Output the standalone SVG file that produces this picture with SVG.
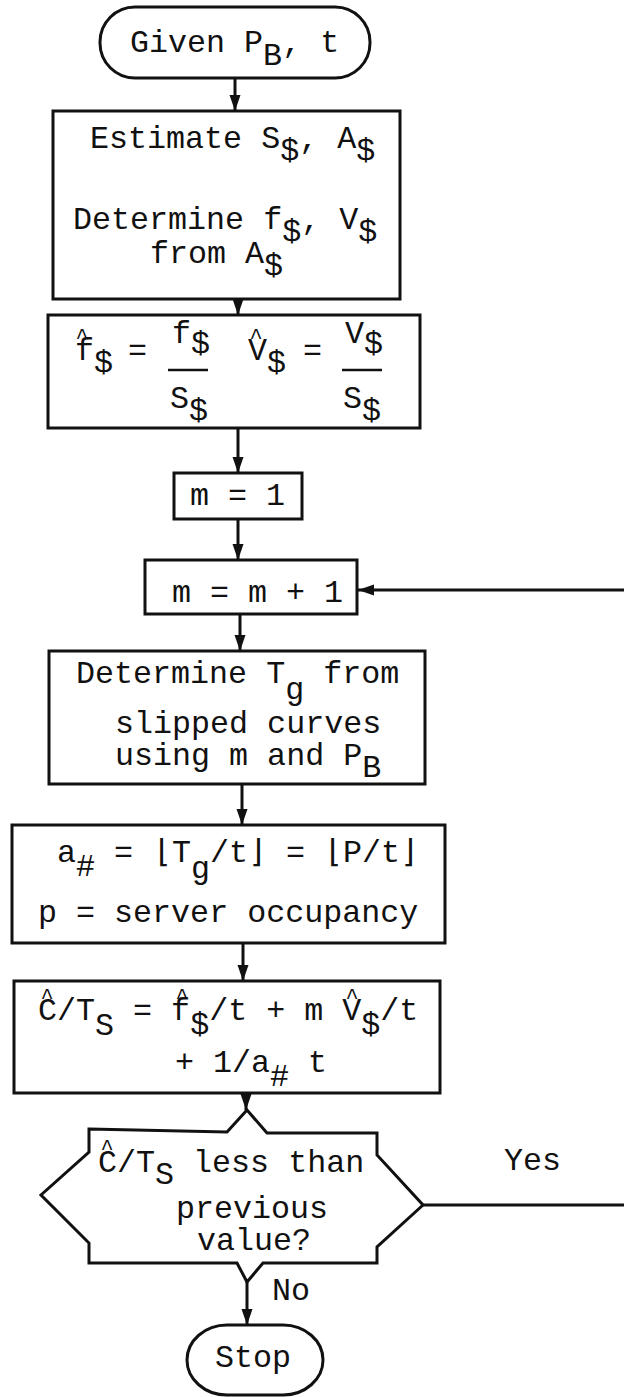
<svg xmlns="http://www.w3.org/2000/svg" width="624" height="1397" viewBox="0 0 624 1397">
<defs>
<style>
.shape{fill:none;stroke:#111;stroke-width:3;stroke-linejoin:miter}
.conn{fill:none;stroke:#111;stroke-width:3}
.t{font-family:"Liberation Mono","DejaVu Sans Mono",monospace;font-size:31.7px;fill:#111}
.hat{font-family:"Liberation Mono","DejaVu Sans Mono",monospace;font-size:22px;fill:#111;text-anchor:middle}
.bar{stroke:#111;stroke-width:2.5}
</style>
<marker id="ah" markerUnits="userSpaceOnUse" markerWidth="16" markerHeight="12" viewBox="0 0 16 12" refX="16" refY="6" orient="auto">
<path d="M0,0.5 L16,6 L0,11.5 z" fill="#111"/>
</marker>
</defs>
<rect width="624" height="1397" fill="#fff"/>

<g id="connectors">
<path class="conn" d="M235,78 V111" marker-end="url(#ah)"/>
<path class="conn" d="M238,299 V315" marker-end="url(#ah)"/>
<path class="conn" d="M238,428 V473" marker-end="url(#ah)"/>
<path class="conn" d="M238,519 V560" marker-end="url(#ah)"/>
<path class="conn" d="M240,614 V651" marker-end="url(#ah)"/>
<path class="conn" d="M242,784 V825" marker-end="url(#ah)"/>
<path class="conn" d="M243,943 V981" marker-end="url(#ah)"/>
<path class="conn" d="M246,1093 V1110" marker-end="url(#ah)"/>
<path class="conn" d="M247,1282 V1325" marker-end="url(#ah)"/>
<path class="conn" d="M423,1205 H628 V590 H358" marker-end="url(#ah)"/>
<text class="t" x="504" y="1170">Yes</text>
<text class="t" x="272" y="1300">No</text>
</g>

<g id="start">
<rect class="shape" x="100" y="7" width="270" height="71" rx="35" ry="35"/>
<text class="t" x="130" y="52">Given P<tspan dy="13">B</tspan><tspan dy="-13">, t</tspan></text>
</g>

<g id="estimate">
<rect class="shape" x="53" y="111" width="347" height="188"/>
<text class="t" x="90" y="148">Estimate S<tspan dy="12">$</tspan><tspan dy="-12">, A</tspan><tspan dy="12">$</tspan></text>
<text class="t" x="73" y="229">Determine f<tspan dy="12">$</tspan><tspan dy="-12">, V</tspan><tspan dy="12">$</tspan></text>
<text class="t" x="150" y="263">from A<tspan dy="12">$</tspan></text>
</g>

<g id="normalize">
<rect class="shape" x="48" y="315" width="372" height="113"/>
<text class="t" x="75" y="360">f<tspan dy="12">$</tspan></text>
<text class="hat" x="82" y="344">^</text>
<text class="t" x="128" y="360">=</text>
<text class="t" x="172" y="343">f<tspan dy="10">$</tspan></text>
<line class="bar" x1="168" y1="370" x2="208" y2="370"/>
<text class="t" x="170" y="408">S<tspan dy="12">$</tspan></text>
<text class="t" x="248" y="360">V<tspan dy="12">$</tspan></text>
<text class="hat" x="256" y="344">^</text>
<text class="t" x="303" y="360">=</text>
<text class="t" x="345" y="343">V<tspan dy="10">$</tspan></text>
<line class="bar" x1="342" y1="370" x2="382" y2="370"/>
<text class="t" x="343" y="408">S<tspan dy="12">$</tspan></text>
</g>

<g id="init">
<rect class="shape" x="174" y="473" width="128" height="46"/>
<text class="t" x="190" y="505">m = 1</text>
</g>

<g id="increment">
<rect class="shape" x="145" y="560" width="212" height="54"/>
<text class="t" x="172" y="602">m = m + 1</text>
</g>

<g id="determine">
<rect class="shape" x="49" y="651" width="376" height="133"/>
<text class="t" x="76" y="683">Determine T<tspan dy="16">g</tspan><tspan dy="-16"> from</tspan></text>
<text class="t" x="115" y="733">slipped curves</text>
<text class="t" x="115" y="765">using m and P<tspan dy="12">B</tspan></text>
</g>

<g id="compute">
<rect class="shape" x="12" y="825" width="433" height="118"/>
<text class="t" x="57" y="862">a<tspan dy="14">#</tspan><tspan dy="-14"> = </tspan></text>
<text class="t" x="153" y="862">⌊</text>
<text class="t" x="172" y="862">T<tspan dy="16">g</tspan><tspan dy="-16">/t</tspan></text>
<text class="t" x="248" y="862">⌋</text>
<text class="t" x="286" y="862">=</text>
<text class="t" x="324" y="862">⌊</text>
<text class="t" x="343" y="862">P/t</text>
<text class="t" x="400" y="862">⌋</text>
<text class="t" x="38" y="922">p = server occupancy</text>
</g>

<g id="cost">
<rect class="shape" x="14" y="981" width="426" height="112"/>
<text class="t" x="38" y="1020">C/T<tspan dy="15">S</tspan><tspan dy="-15"> = f</tspan><tspan dy="14">$</tspan><tspan dy="-14">/t + m V</tspan><tspan dy="14">$</tspan><tspan dy="-14">/t</tspan></text>
<text class="hat" x="47" y="1004">^</text>
<text class="hat" x="182" y="1004">^</text>
<text class="hat" x="352" y="1004">^</text>
<text class="t" x="175" y="1072">+ 1/a<tspan dy="14">#</tspan><tspan dy="-14"> t</tspan></text>
</g>

<g id="decision">
<path class="shape" d="M89,1129 L227,1132 L247,1110 L267,1133 L377,1133 L377,1155 L423,1205 L377,1247 L377,1263 L263,1263 L247,1282 L237,1263 L89,1263 L89,1243 L41,1195 L89,1152 Z"/>
<text class="t" x="98" y="1172">C/T<tspan dy="12">S</tspan><tspan dy="-12"> less than</tspan></text>
<text class="hat" x="107" y="1155">^</text>
<text class="t" x="176" y="1218">previous</text>
<text class="t" x="197" y="1250">value?</text>
</g>

<g id="stop">
<rect class="shape" x="187" y="1325" width="136" height="70" rx="40" ry="36"/>
<text class="t" x="215" y="1367">Stop</text>
</g>
</svg>
